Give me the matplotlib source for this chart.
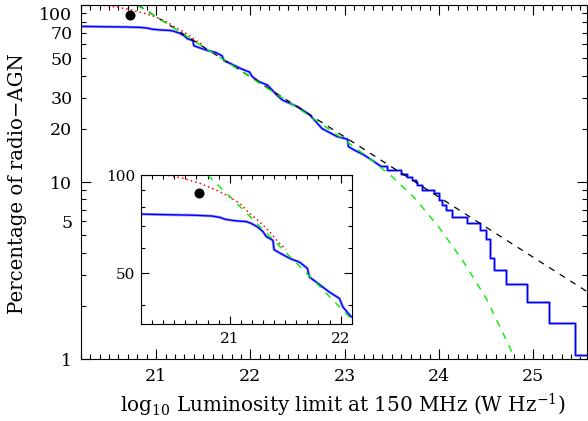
import matplotlib
matplotlib.use("Agg")
import matplotlib.pyplot as plt
from matplotlib.ticker import FixedLocator, MultipleLocator, NullFormatter

# values: x = log10 luminosity limit, y = percent
blue_x = [20.20, 20.69, 20.84, 20.91, 20.96, 21.04, 21.15, 21.19, 21.25, 21.30,
          21.33, 21.39, 21.40, 21.46, 21.55, 21.63, 21.70, 21.72, 21.76, 21.82,
          21.90, 21.99, 22.02, 22.09, 22.18, 22.28, 22.34, 22.50, 22.63, 22.76,
          22.92, 23.03, 23.04, 23.10, 23.20, 23.30, 23.38, 23.451, 23.600, 23.656,
          23.716, 23.752, 23.770, 23.823, 23.946, 23.999, 24.035, 24.070, 24.141, 24.293,
          24.434, 24.495, 24.537, 24.583, 24.707, 24.937, 25.167, 25.439, 25.57]
blue_p = [75.9, 75.3, 74.9, 74.2, 73.2, 72.5, 72.0, 71.2, 69.4, 67.1,
          64.8, 63.1, 59.1, 57.5, 55.4, 54.1, 51.8, 48.7, 47.6, 45.9,
          43.8, 41.9, 39.5, 37.0, 35.4, 31.1, 29.1, 26.7, 24.0, 20.1,
          18.1, 17.5, 15.9, 15.2, 14.3, 13.2, 12.34, 11.72, 11.12, 10.74,
          10.29, 10.07, 9.64, 9.03, 8.65, 7.93, 7.43, 6.96, 6.39, 5.86,
          5.37, 4.76, 3.72, 3.19, 2.65, 2.11, 1.596, 1.056, 1.056]
n_fine = 37   # dense, finely stepped part of the blue curve (up to 23.38)

red_x = [20.20, 20.43, 20.58, 20.73, 20.88, 20.97, 21.09, 21.18, 21.27, 21.36, 21.45, 21.51]
red_p = [100.0, 100.0, 97.7, 94.3, 89.9, 86.8, 81.9, 76.3, 71.9, 67.0, 61.7, 59.2]

green_x = [20.80, 21.0, 21.25, 21.5, 21.75, 22.0, 22.25, 22.5, 22.75, 23.0,
           23.25, 23.5, 23.75, 24.0, 24.25, 24.5, 24.75, 24.85]
green_p = [100.0, 86.0, 70.8, 58.2, 47.9, 39.2, 32.1, 26.3, 21.4, 17.3,
           13.8, 10.8, 8.05, 5.56, 3.62, 2.21, 1.17, 0.86]

black_x = [20.81, 25.57]
black_p = [100.0, 2.41]

dot_x = [20.72]
dot_p = [88.0]

ytick_minor = [2, 3, 4, 5, 6, 7, 8, 9, 20, 30, 40, 50, 60, 70, 80, 90]
ytick_minor_lab = ['', '', '', '', '5', '', '', '', '20', '30', '', '50', '', '70', '', '100']

plt.rcParams['font.family'] = 'DejaVu Serif'
plt.rcParams['mathtext.fontset'] = 'dejavuserif'

fig = plt.figure(figsize=(5.88, 4.21), dpi=100)
ax = fig.add_axes([0.1372, 0.1468, 0.8611, 0.8408])


def curves(a, with_black, ms):
    for c, w in (('#a0a0ff', 2.0), ('#0000ff', 1.0)):
        a.plot(blue_x[:n_fine], blue_p[:n_fine], color=c, lw=w)
        a.plot(blue_x[n_fine - 1:], blue_p[n_fine - 1:], drawstyle='steps-post', color=c, lw=w)
    a.plot(red_x, red_p, color='#ff0000', lw=1.1, linestyle=(0, (1, 2)))
    if with_black:
        a.plot(black_x, black_p, color='k', lw=0.9, linestyle=(0, (5, 5)))
    a.plot(green_x, green_p, color='#00ee00', lw=1.0, linestyle=(0, (5, 5)))
    a.plot(dot_x, dot_p, 'o', color='k', ms=ms)


curves(ax, True, 6.2)
ax.set_yscale('log')
ax.set_xlim(20.2, 25.57)
ax.set_ylim(1, 100)
ax.yaxis.set_major_locator(FixedLocator([1, 10, 100]))
ax.set_yticks([1, 10, 100], ['1', '10', ''])
ax.set_yticks(ytick_minor, ytick_minor_lab, minor=True)
ax.set_xticks([21, 22, 23, 24, 25])
ax.xaxis.set_minor_locator(MultipleLocator(0.1))
ax.tick_params(which='both', direction='in', top=True, right=True, width=0.8,
               labelsize=12.5)
ax.tick_params(which='major', length=7)
ax.tick_params(which='minor', length=3.5)
ax.tick_params(axis='x', which='both', pad=6)
ax.tick_params(axis='y', which='both', pad=6)
for s in ax.spines.values():
    s.set_linewidth(0.8)

fig.text(0.583, 0.036, r'log$_{10}$ Luminosity limit at 150 MHz (W Hz$^{-1}$)',
         ha='center', va='center', fontsize=14.4)
fig.text(0.030, 0.563, 'Percentage of radio\u2212AGN', rotation=90,
         ha='center', va='center', fontsize=14.2)

# inset zoom on the low-luminosity end
ins = fig.add_axes([0.2398, 0.2304, 0.3583, 0.3539])
curves(ins, False, 6.2)
ins.set_yscale('log')
ins.set_xlim(20.2, 22.1)
ins.set_ylim(35, 100)
ins.set_yticks([50, 100], ['50', '100'])
ins.set_yticks([40, 60, 70, 80, 90], minor=True)
ins.yaxis.set_minor_formatter(NullFormatter())
ins.set_xticks([21, 22])
ins.xaxis.set_minor_locator(MultipleLocator(0.1))
ins.tick_params(which='both', direction='in', top=True, right=True, width=0.8,
                labelsize=11)
ins.tick_params(which='major', length=5.5)
ins.tick_params(which='minor', length=3)
ins.tick_params(axis='x', which='both', pad=6)
ins.tick_params(axis='y', which='both', pad=4)
for s in ins.spines.values():
    s.set_linewidth(0.8)

fig.savefig('out.png', dpi=100)
